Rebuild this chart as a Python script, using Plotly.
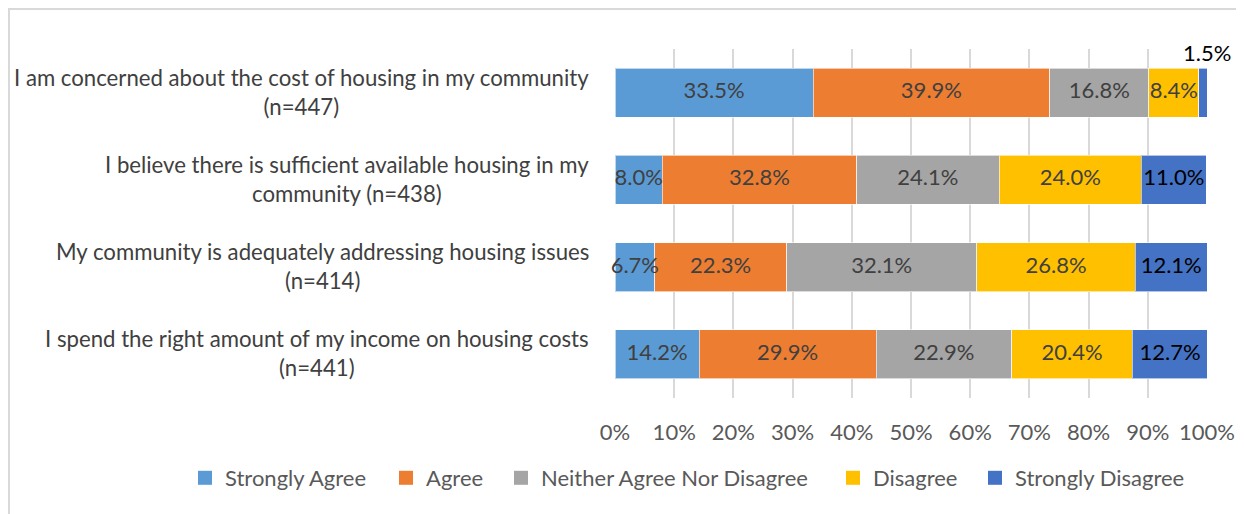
import plotly.graph_objects as go

categories = [
    "I am concerned about the cost of housing in my community<br>(n=447)",
    "I believe there is sufficient available housing in my<br>community (n=438)",
    "My community is adequately addressing housing issues<br>(n=414)",
    "I spend the right amount of my income on housing costs<br>(n=441)",
]
series_names = ["Strongly Agree", "Agree", "Neither Agree Nor Disagree", "Disagree", "Strongly Disagree"]
strongly_agree = [33.5, 8.0, 6.7, 14.2]
agree = [39.9, 32.8, 22.3, 29.9]
neither = [16.8, 24.1, 32.1, 22.9]
disagree = [8.4, 24.0, 26.8, 20.4]
strongly_disagree = [1.5, 11.0, 12.1, 12.7]
x_ticks = [0, 10, 20, 30, 40, 50, 60, 70, 80, 90, 100]

colors = ["#5B9BD5", "#ED7D31", "#A5A5A5", "#FFC000", "#4472C4"]
label_colors = ["#404040", "#404040", "#404040", "#404040", "#000000"]
series = [strongly_agree, agree, neither, disagree, strongly_disagree]

FONT = "Lato"
FS = 22
OFF = 8  # page body margin of the browser
W, H = 1244 - OFF, 514 - OFF
L = 615 - OFF
R = W - (1207 - OFF)
T = 49 - OFF
B = H - (398 - OFF)
PW, PH = W - L - R, H - T - B


def px_x(px):
    return (px - OFF - L) / PW


def px_y(py):
    return (H - B - (py - OFF)) / PH


MIN_INSIDE = 3.0

fig = go.Figure()
for i, (name, vals) in enumerate(zip(series_names, series)):
    fig.add_trace(go.Bar(
        y=categories, x=vals, name=name, orientation="h",
        marker=dict(color=colors[i], line=dict(color="rgba(255,255,255,0.6)", width=1)),
        textposition="none", hoverinfo="skip", showlegend=False,
    ))

# data labels at segment centres (computed from the data)
cum = [0.0] * len(categories)
small_labels = []
for i, vals in enumerate(series):
    xs, ys, ts = [], [], []
    for j, v in enumerate(vals):
        if v >= MIN_INSIDE:
            xs.append(cum[j] + v / 2)
            ys.append(categories[j])
            ts.append(f"{v:.1f}%")
        else:
            small_labels.append((cum[j] + v / 2, categories[j], f"{v:.1f}%", label_colors[i]))
        cum[j] += v
    fig.add_trace(go.Scatter(
        x=xs, y=ys, text=ts, mode="text", textposition="middle center",
        textfont=dict(family=FONT, size=FS, color=label_colors[i]),
        hoverinfo="skip", showlegend=False, cliponaxis=False,
    ))

# legend entries
legend_px = [185, 386, 501, 833, 975]
for i, name in enumerate(series_names):
    lg = "legend" if i == 0 else f"legend{i+1}"
    fig.add_trace(go.Scatter(
        x=[None], y=[None], mode="markers", name=name,
        marker=dict(symbol="square", size=14, color=colors[i]),
        legend=lg, hoverinfo="skip",
    ))

annotations = []
for x, cat, txt, col in small_labels:
    annotations.append(dict(
        x=x, y=cat, xref="x", yref="y", text=txt, showarrow=False,
        yshift=40, xshift=4, font=dict(family=FONT, size=FS, color=col),
        xanchor="center", yanchor="middle",
    ))
for cat in categories:
    annotations.append(dict(
        x=px_x(591), y=cat, xref="paper", yref="y", text=cat, showarrow=False,
        align="center", xanchor="right", yanchor="middle", yshift=1,
        font=dict(family=FONT, size=22.2, color="#404040"),
    ))

layout_legends = {}
for i in range(5):
    key = "legend" if i == 0 else f"legend{i+1}"
    layout_legends[key] = dict(
        x=px_x(legend_px[i]), y=px_y(478), xref="paper", yref="paper",
        xanchor="left", yanchor="middle", orientation="h",
        font=dict(family=FONT, size=FS, color="#595959"),
        bgcolor="rgba(0,0,0,0)", borderwidth=0,
    )

fig.update_layout(
    width=W, height=H,
    margin=dict(l=L, r=R, t=T, b=B, autoexpand=False),
    barmode="stack", bargap=0.44,
    plot_bgcolor="white", paper_bgcolor="white",
    showlegend=True,
    annotations=annotations,
    xaxis=dict(
        range=[0, 100], tickvals=x_ticks, ticktext=[f"{t}%" for t in x_ticks],
        showgrid=True, gridcolor="#D9D9D9", gridwidth=1.5, zeroline=False,
        showline=False, ticks="", ticklabelstandoff=19,
        tickfont=dict(family=FONT, size=FS, color="#595959"),
    ),
    yaxis=dict(
        autorange="reversed", showticklabels=False, showgrid=False,
        zeroline=False, showline=False,
    ),
    shapes=[
        dict(type="rect", xref="paper", yref="paper",
             x0=px_x(OFF + 1), x1=px_x(1300), y0=px_y(OFF + 1), y1=px_y(560),
             line=dict(color="#D9D9D9", width=2), layer="below"),
    ],
    **layout_legends,
)

fig.write_html("out.html")
